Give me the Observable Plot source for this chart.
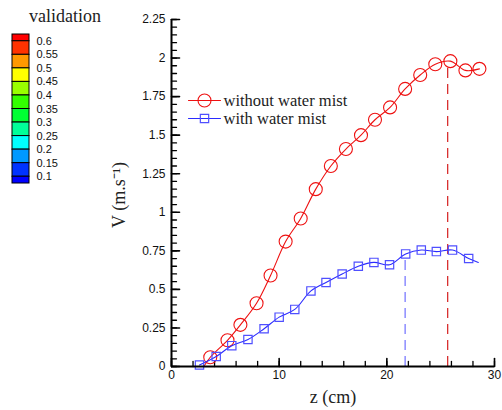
<!DOCTYPE html>
<html>
<head>
<meta charset="utf-8">
<script src="https://cdn.jsdelivr.net/npm/d3@7"></script>
<script src="https://cdn.jsdelivr.net/npm/@observablehq/plot@0.6"></script>
<style>
  html, body { margin: 0; padding: 0; background: #fff; }
  #wrap { position: relative; width: 502px; height: 410px; overflow: hidden; }
  #wrap svg { position: absolute; left: 0; top: 0; }
</style>
</head>
<body>
<div id="wrap"></div>
<script>
// ---- data ----
const redZ = [3.6, 5.2, 6.4, 7.9, 9.2, 10.6, 12.0, 13.4, 14.8, 16.2, 17.6, 18.9, 20.3, 21.7, 23.1, 24.5, 25.9, 27.3, 28.6];
const redV = [0.06, 0.17, 0.27, 0.41, 0.59, 0.81, 0.96, 1.15, 1.30, 1.41, 1.50, 1.60, 1.68, 1.80, 1.89, 1.96, 1.98, 1.92, 1.93];
const redLineStart = [3.0, 0.0];

const blueZ = [2.6, 4.15, 5.6, 7.1, 8.6, 10.0, 11.45, 12.95, 14.35, 15.85, 17.35, 18.8, 20.25, 21.75, 23.2, 24.6, 26.1, 27.6];
const blueV = [0.01, 0.065, 0.135, 0.175, 0.245, 0.32, 0.37, 0.49, 0.545, 0.60, 0.65, 0.675, 0.66, 0.73, 0.755, 0.745, 0.755, 0.70];
const blueLineEnd = [28.5, 0.675];

const peakZ = [21.7, 25.65];
const peakV = [0.72, 1.97];
const peakColors = ["#7b7bff", "#d83030"];

const seriesNames = ["without water mist", "with water mist"];

const xMajor = [0, 10, 20, 30];
const xMinor = d3.range(0, 30.001, 2).map(d => +d.toFixed(2));
const yMajor = [0, 0.25, 0.5, 0.75, 1, 1.25, 1.5, 1.75, 2, 2.25];
const yMinor = d3.range(0, 2.2501, 0.05).map(d => +d.toFixed(2));

const colorbarStops = [0.6, 0.55, 0.5, 0.45, 0.4, 0.35, 0.3, 0.25, 0.2, 0.15, 0.1];
const colorbarColors = ["#ff0000", "#ff3300", "#ff9900", "#ffff00", "#99ff00", "#33ff00", "#00ff33", "#00ff99", "#00ffff", "#0099ff", "#0033ff", "#0000ff"];
const colorbarTitle = "validation";

// ---- derived tables ----
const redPts = redZ.map((z, i) => ({z, v: redV[i]}));
const bluePts = blueZ.map((z, i) => ({z, v: blueV[i]}));
const redLine = [{z: redLineStart[0], v: redLineStart[1]}, ...redPts];
const blueLine = [...bluePts, {z: blueLineEnd[0], v: blueLineEnd[1]}];
const peaks = peakZ.map((z, i) => ({z, v: peakV[i], c: peakColors[i]}));

const RED = "#ee1111", BLUE = "#2b2bff", BLUESYM = "#4f4fff";
const serif = "Liberation Serif, Times New Roman, serif";
const sans = "Liberation Sans, Arial, sans-serif";

const tickShape = { draw(context, l) { context.moveTo(0, 0); context.lineTo(0, -l); } };

const main = Plot.plot({
  width: 502,
  height: 410,
  marginLeft: 171,
  marginRight: 8,
  marginTop: 19,
  marginBottom: 44,
  style: {fontFamily: sans, fontSize: "12px", color: "#111", background: "transparent"},
  x: {domain: [0, 30]},
  y: {domain: [0, 2.25]},
  marks: [
    Plot.axisX({ticks: xMajor, tickSize: 0, tickPadding: 4, tickFormat: d => String(d), label: null, fontSize: 12}),
    Plot.axisY({ticks: yMajor, tickSize: 0, tickPadding: 6, tickFormat: d => String(d), label: null, fontSize: 12}),
    // inward ticks
    Plot.vector(xMinor, {x: d => d, y: 0, length: 5, rotate: 0, anchor: "start", shape: tickShape, stroke: "#000", strokeWidth: 1.3}),
    Plot.vector(xMajor, {x: d => d, y: 0, length: 8, rotate: 0, anchor: "start", shape: tickShape, stroke: "#000", strokeWidth: 1.6}),
    Plot.vector(yMinor, {x: 0, y: d => d, length: 5, rotate: 90, anchor: "start", shape: tickShape, stroke: "#000", strokeWidth: 1.3}),
    Plot.vector(yMajor, {x: 0, y: d => d, length: 8, rotate: 90, anchor: "start", shape: tickShape, stroke: "#000", strokeWidth: 1.6}),
    // peak dashed lines
    Plot.ruleX(peaks, {x: "z", y1: 0, y2: "v", stroke: "c", strokeDasharray: "10,6", strokeWidth: 1.3}),
    // series
    Plot.line(redLine, {x: "z", y: "v", curve: "catmull-rom", stroke: RED, strokeWidth: 1.1}),
    Plot.dot(redPts, {x: "z", y: "v", r: 6.5, stroke: RED, strokeWidth: 1.1, fill: "none"}),
    Plot.line(blueLine, {x: "z", y: "v", curve: "catmull-rom", stroke: BLUE, strokeWidth: 1.1}),
    Plot.dot(bluePts, {x: "z", y: "v", symbol: "square", r: 4.7, stroke: BLUESYM, strokeWidth: 1.2, fill: "none"}),
    // axis lines
    Plot.ruleX([0], {stroke: "#000", strokeWidth: 2}),
    Plot.ruleY([0], {stroke: "#000", strokeWidth: 2}),
    // legend
    Plot.vector([seriesNames[0]], {frameAnchor: "top-left", dx: 17, dy: 81, length: 32, rotate: 90, anchor: "start", shape: tickShape, stroke: RED, strokeWidth: 1.1}),
    Plot.dot([seriesNames[0]], {frameAnchor: "top-left", dx: 33, dy: 81, r: 6.5, stroke: RED, strokeWidth: 1.1, fill: "none"}),
    Plot.text([seriesNames[0]], {frameAnchor: "top-left", dx: 52, dy: 81, text: d => d, textAnchor: "start", lineAnchor: "middle", fontFamily: serif, fontSize: 16.5, fill: "#222"}),
    Plot.vector([seriesNames[1]], {frameAnchor: "top-left", dx: 17, dy: 99, length: 32, rotate: 90, anchor: "start", shape: tickShape, stroke: BLUE, strokeWidth: 1.1}),
    Plot.dot([seriesNames[1]], {frameAnchor: "top-left", dx: 33, dy: 99, symbol: "square", r: 4.7, stroke: BLUESYM, strokeWidth: 1.2, fill: "none"}),
    Plot.text([seriesNames[1]], {frameAnchor: "top-left", dx: 52, dy: 99, text: d => d, textAnchor: "start", lineAnchor: "middle", fontFamily: serif, fontSize: 16.5, fill: "#222"}),
    // axis titles
    Plot.text(["z (cm)"], {frameAnchor: "bottom", dy: 31, text: d => d, textAnchor: "middle", lineAnchor: "middle", fontFamily: serif, fontSize: 18, fill: "#222"}),
    Plot.text(["V (m.s\u207B\u00B9)"], {frameAnchor: "left", dx: -52, dy: 2, rotate: -90, text: d => d, textAnchor: "middle", lineAnchor: "middle", fontFamily: serif, fontSize: 18, fill: "#222"})
  ]
});
document.getElementById("wrap").appendChild(main);

const bands = colorbarColors.map((c, i) => {
  const step = 0.05;
  const hi = i === 0 ? colorbarStops[0] + step / 2 : colorbarStops[i - 1];
  const lo = i === colorbarColors.length - 1 ? colorbarStops[colorbarStops.length - 1] - step / 2 : colorbarStops[i];
  return {lo, hi, c};
});

const bar = Plot.plot({
  width: 90,
  height: 190,
  marginTop: 34,
  marginBottom: 7,
  marginLeft: 12,
  marginRight: 61,
  style: {fontFamily: sans, background: "transparent", overflow: "visible"},
  x: {axis: null},
  y: {domain: [0.075, 0.625], axis: null},
  marks: [
    Plot.rect(bands, {y1: "lo", y2: "hi", fill: "c", stroke: "#000", strokeWidth: 1}),
    Plot.text(colorbarStops, {y: d => d, frameAnchor: "right", dx: 7, text: d => String(d), textAnchor: "start", lineAnchor: "middle", fontSize: 11, fontFamily: sans, fill: "#111"}),
    Plot.text([colorbarTitle], {frameAnchor: "top", dx: 44, dy: -18, text: d => d, textAnchor: "middle", lineAnchor: "middle", fontFamily: serif, fontSize: 18, fill: "#222"})
  ]
});
document.getElementById("wrap").appendChild(bar);
</script>
</body>
</html>
